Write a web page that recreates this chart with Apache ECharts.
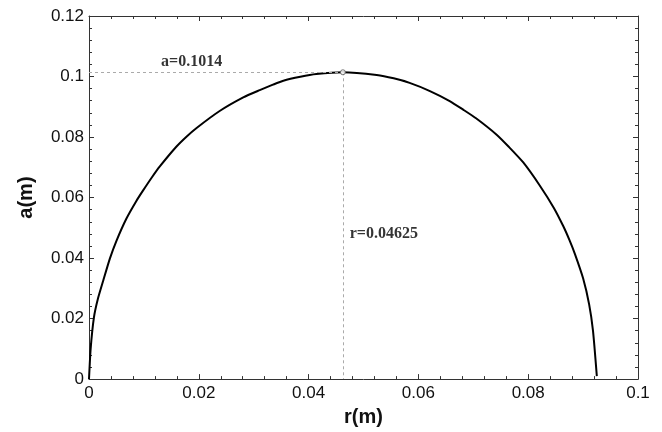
<!DOCTYPE html>
<html><head><meta charset="utf-8">
<script src="https://cdn.jsdelivr.net/npm/echarts@6/dist/echarts.min.js"></script>
<style>html,body{margin:0;padding:0;background:#fff}#c{width:662px;height:432px}</style>
</head><body><div id="c"></div>
<script>
// curve points: r (m) and a (m)
const rValues = [0, 0.0003, 0.0009, 0.0016, 0.0026, 0.0038, 0.005, 0.0068, 0.0086, 0.0098, 0.0115, 0.0129, 0.0159, 0.0178, 0.0196, 0.0238, 0.0281, 0.0311, 0.0335, 0.0354, 0.0385, 0.0414, 0.04625, 0.0524, 0.0555, 0.0584, 0.0621, 0.0657, 0.0682, 0.0705, 0.0743, 0.0765, 0.0791, 0.0821, 0.0847, 0.0864, 0.0875, 0.0885, 0.09, 0.0911, 0.0918, 0.0925];
const aValues = [0, 0.0100, 0.0204, 0.0264, 0.0326, 0.0398, 0.0457, 0.0530, 0.0588, 0.0622, 0.0668, 0.0703, 0.0768, 0.0802, 0.0830, 0.0886, 0.0931, 0.0955, 0.0973, 0.0986, 0.0999, 0.1008, 0.1014, 0.1005, 0.0994, 0.0979, 0.0952, 0.0919, 0.0890, 0.0862, 0.0807, 0.0767, 0.0716, 0.0640, 0.0565, 0.0505, 0.0460, 0.0414, 0.0333, 0.0247, 0.0160, 0.0010];
const peak = [0.04625, 0.1014];
const xTicks = [0, 0.02, 0.04, 0.06, 0.08, 0.1];
const yTicks = [0, 0.02, 0.04, 0.06, 0.08, 0.1, 0.12];
const labelA = 'a=0.1014';
const labelR = 'r=0.04625';
const labelAPos = [0.0187, 0.1049];
const labelRPos = [0.0537, 0.0481];

const curve = rValues.map((r, i) => [r, aValues[i]]);
const fmt = v => String(+v.toFixed(4));
const axisCol = '#333';
const tickLabel = {color: '#111', fontSize: 17, fontFamily: 'Liberation Sans, Arial, sans-serif'};
const tickCfg = {show: true, inside: true, length: 5, lineStyle: {color: axisCol}};
const minorCfg = {show: true, splitNumber: 5, length: 3, lineStyle: {color: axisCol}};

const chart = echarts.init(document.getElementById('c'), null, {renderer: 'canvas'});
chart.setOption({
  animation: false,
  backgroundColor: '#fff',
  grid: {left: 89, right: 24, top: 16, bottom: 51},
  xAxis: [{
    type: 'value', min: xTicks[0], max: xTicks[xTicks.length - 1], interval: 0.02,
    name: 'r(m)', nameLocation: 'middle', nameGap: 27,
    nameTextStyle: {fontSize: 20, fontWeight: 'bold', color: '#111', fontFamily: 'Liberation Sans, Arial, sans-serif'},
    axisLine: {show: true, onZero: false, lineStyle: {color: axisCol, width: 1}},
    axisTick: tickCfg, minorTick: minorCfg,
    axisLabel: Object.assign({margin: 6, formatter: fmt}, tickLabel),
    splitLine: {show: false}
  }, {
    type: 'value', position: 'top', min: xTicks[0], max: xTicks[xTicks.length - 1], interval: 0.02,
    axisLine: {show: true, onZero: false, lineStyle: {color: axisCol}},
    axisTick: tickCfg, minorTick: minorCfg,
    axisLabel: {show: false}, splitLine: {show: false}
  }],
  yAxis: [{
    type: 'value', min: yTicks[0], max: yTicks[yTicks.length - 1], interval: 0.02,
    name: 'a(m)', nameLocation: 'middle', nameGap: 53, nameRotate: 90,
    nameTextStyle: {fontSize: 20, fontWeight: 'bold', color: '#111', fontFamily: 'Liberation Sans, Arial, sans-serif'},
    axisLine: {show: true, onZero: false, lineStyle: {color: axisCol, width: 1}},
    axisTick: tickCfg, minorTick: minorCfg,
    axisLabel: Object.assign({margin: 5, formatter: fmt}, tickLabel),
    splitLine: {show: false}
  }, {
    type: 'value', position: 'right', min: yTicks[0], max: yTicks[yTicks.length - 1], interval: 0.02,
    axisLine: {show: true, onZero: false, lineStyle: {color: axisCol}},
    axisTick: tickCfg, minorTick: minorCfg,
    axisLabel: {show: false}, splitLine: {show: false}
  }],
  series: [{
    type: 'line', data: curve, showSymbol: false, smooth: 0.2,
    lineStyle: {color: '#000', width: 2},
    markLine: {
      silent: true, symbol: ['none', 'none'], label: {show: false},
      lineStyle: {color: '#aaa', type: [3, 3], width: 1},
      data: [
        [{coord: [0, peak[1]]}, {coord: [peak[0], peak[1]]}],
        [{coord: [peak[0], peak[1]]}, {coord: [peak[0], 0]}]
      ]
    },
    z: 3
  }, {
    type: 'scatter', data: [peak], symbol: 'circle', symbolSize: 5,
    itemStyle: {color: '#fff', borderColor: '#555', borderWidth: 1}, z: 5
  }, {
    type: 'scatter', symbol: 'circle', symbolSize: 1,
    itemStyle: {color: 'rgba(0,0,0,0)'},
    data: [
      {value: labelAPos, label: {formatter: labelA}},
      {value: labelRPos, label: {formatter: labelR}}
    ],
    label: {show: true, position: 'inside', color: '#000', fontSize: 16, fontWeight: 'bold', fontFamily: 'Liberation Serif, Times New Roman, serif'},
    z: 6
  }, {
    // binds the mirrored top/right axes so they are drawn as the frame
    type: 'scatter', xAxisIndex: 1, yAxisIndex: 1, data: [peak], symbolSize: 0,
    itemStyle: {opacity: 0}, silent: true
  }]
});
</script></body></html>
